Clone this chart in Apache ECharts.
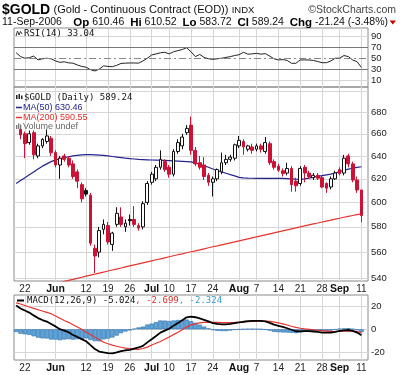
<!DOCTYPE html>
<html><head><meta charset="utf-8">
<script src="https://cdn.jsdelivr.net/npm/echarts@6/dist/echarts.min.js"></script>
<style>html,body{margin:0;padding:0;background:#fff}#c{width:400px;height:375px}</style>
</head><body><div id="c"></div>
<script>
// ---- data ----
const dates = ['05-18','05-19','05-22','05-23','05-24','05-25','05-26','05-30','05-31',
'06-01','06-02','06-05','06-06','06-07','06-08','06-09','06-12','06-13','06-14','06-15','06-16','06-19','06-20','06-21','06-22','06-23','06-26','06-27','06-28','06-29','06-30',
'07-03','07-05','07-06','07-07','07-10','07-11','07-12','07-13','07-14','07-17','07-18','07-19','07-20','07-21','07-24','07-25','07-26','07-27','07-28','07-31',
'08-01','08-02','08-03','08-04','08-07','08-08','08-09','08-10','08-11','08-14','08-15','08-16','08-17','08-18','08-21','08-22','08-23','08-24','08-25','08-28','08-29','08-30','08-31',
'09-01','09-05','09-06','09-07','09-08','09-11'];

const opens = [null,664,660,652,661,640,649,653,656,643,632,640,638,633,626,615,610,606,563,560,578,581,566,582,588,580,586,586,581,580,600,617,620,630,635,630,624,644,649,661,668,645,634,632,623,617,620,626,634,637,638,649,653,646,648,646,649,644,651,635,631,627,625,629,618,616,630,625,621,623,621,616,613,620,628,625,640,633,619,610.46];
const highs = [null,667,662,663,663,651,656,664,658,645,640,642,640,636,628,617,612,608,566,580,586,584,576,596,596,586,590,597,583,601,618,626,632,645,637,632,646,655,660,668,676,648,640,639,625,622,629,643,641,641,651,658,655,650,651,651,651,657,653,637,633,629,634,631,621,631,632,627,625,625,623,617,622,627,630,641,642,635,622,610.52];
const lows = [null,655,638,650,637,638,647,651,640,630,620,635,630,620,612,600,605,565,544,556,574,566,561,580,580,576,581,580,577,578,598,615,618,628,626,621,622,642,646,659,641,631,628,619,614,605,618,624,632,635,636,647,641,644,642,644,643,642,632,628,626,622,623,609,609,614,617,620,619,619,612,608,611,619,623,623,630,617,608,583.72];
const closes = [null,659,651,660,641,649,655,658,643,632,638,637,632,622,618,603,607,567,557,577,582,568,575,591,582,583,585,582,579,599,616,624,630,637,628,624,644,652,657,665,645,633,630,622,617,620,628,634,637,639,650,654,648,649,645,649,646,652,634,630,627.5,624.5,629,615,614,629,625,622,623,620.5,613,612,620,625,624.5,638,633,619,610.48,589.24];

const ma50 = [616,618.5,621,623.5,626,628.5,631,633,635,636.5,637.5,638.5,639.3,640,640.6,641,641.2,641.2,641,640.8,640.5,640,639.5,639,638.5,638,637.6,637.3,637,636.8,636.6,636.4,636.3,636.2,636,635.8,635.6,635.4,635.2,635,634.7,633.8,632.6,631.3,630,628.5,627.2,626,624.8,623.6,622.5,621.3,620.8,620.6,620.5,620.4,620.4,620.4,620.4,620.3,620.3,620.3,620.2,620,619.7,619.5,619.9,620.6,621.4,622.1,622.8,623.4,624,625,626.2,627.4,628.4,629.2,629.9,630.46];
const ma200 = [529.1,529.9,530.7,531.4,532.2,533,533.8,534.6,535.3,536.1,536.9,537.7,538.5,539.2,540,540.8,541.6,542.4,543.1,543.9,544.7,545.5,546.3,547,547.8,548.6,549.4,550.2,550.9,551.7,552.5,553.3,554.1,554.8,555.6,556.4,557.2,558,558.7,559.5,560.3,561,561.8,562.6,563.4,564.2,564.9,565.7,566.5,567.3,568,568.8,569.6,570.4,571.2,572,572.8,573.6,574.4,575.2,576,576.8,577.6,578.4,579.2,580,580.8,581.6,582.4,583.1,583.9,584.7,585.5,586.2,587,587.8,588.5,589.2,589.9,590.55];

const rsi = [60,53,50,51,54,47,49,50,49,45,42.5,43.5,41.5,41,37.6,35,33.5,29,26.6,30,36,35,34.5,37,40.5,41,41.3,41.3,41,45,50,56,58,60,61,58,62,64,66,69.4,62,53,57,51.5,49,48,49,50,51.5,53,55,56.5,61,57.5,58,59,57.5,58.5,54,49,47,47.5,46,40.7,40.7,46.8,47,46.8,46,44,41.8,41.8,45,50,50,55,53,46.8,43.7,33.04];

const macd = [20.5,18,16.2,14.4,12,9.7,8,6.7,4.6,2.5,0.1,-1.2,-2.5,-4.9,-6.6,-8.5,-10.3,-13.7,-17,-19.2,-19.9,-20.5,-20.7,-20,-18.8,-18.1,-17.7,-16.6,-15.7,-14.3,-11.3,-8.6,-5.8,-2.9,-1.1,0.5,3,5.5,7.8,10.3,10.9,10.4,9.5,8.2,6.8,5.3,4.6,4.3,4.3,4.7,5.4,5.9,6.5,7,7.2,7.2,7.2,6.8,5.6,4,3,2,0.9,-0.4,-1.7,-1.8,-1.6,-1.6,-1.9,-2.3,-2.8,-2.9,-2.9,-2.2,-1.3,-0.9,-0.6,-1.3,-2.8,-5.024];
const signal = [22.8,21.8,20.5,19.2,18,16.9,15.8,14.6,13.4,11.4,9.5,7.6,6,4,2,0,-2.5,-4.5,-6.8,-8.8,-11.2,-12.5,-13.6,-14.6,-15.5,-16.2,-16.7,-17.1,-17.3,-16.6,-15.4,-13.5,-12,-10.5,-8.6,-6.6,-4.6,-2.5,-0.3,1.9,3.8,4.7,5.5,5.9,6,6,5.9,5.8,5.8,5.8,5.9,6.1,6.4,6.7,6.9,7,7.1,7.1,6.8,6.2,5.5,4.7,3.7,2.6,1.6,0.9,0.4,0,-0.4,-0.8,-1.2,-1.5,-1.8,-1.9,-1.8,-1.6,-1.5,-1.6,-2,-2.699];
const hist = [-2.3,-3.8,-4.3,-4.8,-6,-7.2,-7.8,-7.9,-8.8,-8.9,-9.4,-8.8,-8.5,-8.9,-8.6,-8.5,-7.8,-9.2,-10.2,-10.4,-8.7,-8,-7.1,-5.4,-3.3,-1.9,-1,0.5,1.6,2.3,4.1,4.9,6.2,7.6,7.5,7.1,7.6,8,8.1,8.4,7.1,5.7,4,2.3,0.8,-0.7,-1.3,-1.5,-1.5,-1.1,-0.5,-0.2,0.1,0.3,0.3,0.2,0.1,-0.3,-1.2,-2.2,-2.5,-2.7,-2.8,-3,-3.3,-2.7,-2,-1.6,-1.5,-1.5,-1.6,-1.4,-1.1,-0.3,0.5,0.7,0.9,0.3,-0.8,-2.324];

const tickDates  = ['05-22','06-01','06-12','06-19','06-26','07-03','07-10','07-17','07-24','08-01','08-07','08-14','08-21','08-28','09-01','09-11'];
const tickLabels = ['22','Jun','12','19','26','Jul','10','17','24','Aug','7','14','21','28','Sep','11'];
const monthLabels = ['Jun','Jul','Aug','Sep'];
const priceTicks = [540,560,580,600,620,640,660,680];
const priceGrid = [540,560,580,600,620,640,660,680,700];
const priceRange = [538.0, 704.3];
const rsiTicks = [10,30,50,70,90];
const rsiGrid = [10,90];
const rsiRange = [-2.85,105.6];
const macdTicks = [-20,0,20];
const macdRange = [-26.5,29.6];

// ---- build ----
const RED = '#cc1236', BLK = '#111';
const F = 'Liberation Sans', M = 'DejaVu Sans Mono';
const cats = dates.concat(['']);
const tickMap = {}; tickDates.forEach((d,i)=>tickMap[d]=tickLabels[i]);
const isTick = (idx,val)=> tickMap[val] !== undefined;

const candles = dates.map((d,k)=>{
  if (opens[k]==null) return '-';
  const o=opens[k], c=closes[k], pc = closes[k-1];
  const col = (pc==null || c < pc) ? RED : BLK;
  const fill = c >= o ? '#ffffff' : col;
  return {value:[Math.log(o),Math.log(c),Math.log(lows[k]),Math.log(highs[k])],
          itemStyle:{color:fill,color0:fill,borderColor:col,borderColor0:col}};
});

function xAx(i, show){
  return {type:'category', gridIndex:i, data:cats, boundaryGap:true,
    axisLine:{show:false}, axisTick:{show:false},
    axisLabel:{show:show, interval:isTick, margin:3, fontSize:10, fontFamily:F, color:'#222',
      formatter:(v)=>{const t=tickMap[v]; if(t===undefined) return ''; return monthLabels.indexOf(t)>=0 ? '{b|'+t+'}' : t;},
      rich:{b:{fontWeight:'bold', fontSize:10.5, fontFamily:F, color:'#111'}}},
    splitLine:{show:true, interval:isTick, alignWithLabel:true, lineStyle:{color:'#d6d6d6', width:1}}};
}
const yLab = {fontSize:9.5, fontFamily:F, color:'#222', margin:3};

const last = closes.length-1;
const chg = closes[last]-closes[last-1];
const pct = chg/closes[last-1]*100;

const option = {
  animation:false,
  backgroundColor:'#fff',
  textStyle:{fontFamily:F},
  grid:[
    {left:14, top:28, width:354, height:59, show:true, borderColor:'#8a8a8a', borderWidth:1},
    {left:14, top:87, width:354, height:194, show:true, borderColor:'#8a8a8a', borderWidth:1},
    {left:14, top:295, width:354, height:65, show:true, borderColor:'#8a8a8a', borderWidth:1}
  ],
  xAxis:[xAx(0,false), xAx(1,true), xAx(2,true)],
  yAxis:[
    {type:'value', gridIndex:0, position:'right', min:rsiRange[0], max:rsiRange[1],
      axisLine:{show:false}, axisTick:{show:false, customValues:rsiGrid},
      axisLabel:Object.assign({customValues:rsiTicks}, yLab),
      splitLine:{show:true, lineStyle:{color:'#d6d6d6'}}},
    {type:'value', gridIndex:1, position:'right', min:Math.log(priceRange[0]), max:Math.log(priceRange[1]),
      axisLine:{show:false}, axisTick:{show:false, customValues:priceGrid.map(Math.log)},
      axisLabel:Object.assign({customValues:priceTicks.map(Math.log), formatter:(v)=>String(Math.round(Math.exp(v)))}, yLab),
      splitLine:{show:true, lineStyle:{color:'#d6d6d6'}}},
    {type:'value', gridIndex:2, position:'right', min:macdRange[0], max:macdRange[1],
      axisLine:{show:false}, axisTick:{show:false, customValues:macdTicks},
      axisLabel:Object.assign({customValues:macdTicks}, yLab),
      splitLine:{show:true, lineStyle:{color:'#d6d6d6'}}}
  ],
  series:[
    {type:'line', xAxisIndex:0, yAxisIndex:0, data:[], z:1, silent:true,
      markLine:{silent:true, symbol:'none', label:{show:false}, animation:false,
        data:[{yAxis:70, lineStyle:{color:'#777', type:'solid', width:1}},
              {yAxis:30, lineStyle:{color:'#777', type:'solid', width:1}},
              {yAxis:50, lineStyle:{color:'#888', type:[7,3,2,3], width:1}}]}},
    {type:'line', xAxisIndex:0, yAxisIndex:0, data:rsi, symbol:'none', z:3,
      lineStyle:{color:'#222', width:1}},
    {type:'line', xAxisIndex:1, yAxisIndex:1, data:ma200.map(Math.log), symbol:'none', z:2,
      lineStyle:{color:'#e8342e', width:1.2}},
    {type:'line', xAxisIndex:1, yAxisIndex:1, data:ma50.map(Math.log), symbol:'none', z:2,
      lineStyle:{color:'#23238e', width:1.2}},
    {type:'candlestick', xAxisIndex:1, yAxisIndex:1, data:candles, barWidth:3.3, z:3,
      itemStyle:{borderWidth:1}},
    {type:'bar', xAxisIndex:2, yAxisIndex:2, data:hist, barCategoryGap:'0%', z:2,
      itemStyle:{color:'#5ea4d6', borderColor:'#2f6fae', borderWidth:0.6}},
    {type:'line', xAxisIndex:2, yAxisIndex:2, data:signal, symbol:'none', z:3,
      lineStyle:{color:'#e8342e', width:1.2}},
    {type:'line', xAxisIndex:2, yAxisIndex:2, data:macd, symbol:'none', z:4,
      lineStyle:{color:'#000', width:1.8}}
  ],
  graphic:[
    {type:'text', x:2, y:10, z:10, style:{text:'{b|$GOLD} {n|(Gold - Continuous Contract (EOD))} {s|INDX}', verticalAlign:'middle',
      rich:{b:{fontSize:14, fontWeight:'bold', fontFamily:F, fill:'#000'}, n:{fontSize:11, fontFamily:F, fill:'#111'}, s:{fontSize:9.5, fontFamily:F, fill:'#111'}}}},
    {type:'text', x:396, y:10, z:10, style:{text:'\u00a9StockCharts.com', align:'right', verticalAlign:'middle', fontSize:10.5, fontFamily:F, fill:'#444'}},
    {type:'text', x:2, y:22.5, z:10, style:{text:'11-Sep-2006', verticalAlign:'middle', fontSize:10.5, fontFamily:F, fill:'#111'}},
    {type:'text', x:388, y:22.5, z:10, style:{text:'{b|Op} '+opens[last].toFixed(2)+'  {b|Hi} '+highs[last].toFixed(2)+'  {b|Lo} '+lows[last].toFixed(2)+'  {b|Cl} '+closes[last].toFixed(2)+'  {b|Chg} '+chg.toFixed(2)+' ('+pct.toFixed(2)+'%)',
      align:'right', verticalAlign:'middle', fontSize:10.5, fontFamily:F, fill:'#111',
      rich:{b:{fontSize:11.5, fontWeight:'bold', fontFamily:F, fill:'#000'}}}},
    {type:'polygon', z:10, shape:{points:[[389.5,20.5],[396,20.5],[392.75,24.5]]}, style:{fill:'#cc0000'}},
    // RSI legend
    {type:'polyline', z:10, shape:{points:[[16,36],[17.5,31],[19,35],[20.5,31.5],[22,34]]}, style:{stroke:'#333', lineWidth:1, fill:null}},
    {type:'text', x:24, y:33.5, z:10, style:{text:'RSI(14) '+rsi[last].toFixed(2), verticalAlign:'middle', fontSize:9, fontFamily:M, fill:'#111'}},
    // price legend
    {type:'rect', z:10, shape:{x:16,y:95,width:1.5,height:4}, style:{fill:'#222'}},
    {type:'rect', z:10, shape:{x:18.5,y:94,width:1.5,height:5}, style:{fill:'#222'}},
    {type:'rect', z:10, shape:{x:21,y:95.5,width:1.5,height:3.5}, style:{fill:'#222'}},
    {type:'text', x:24, y:97.5, z:10, style:{text:'$GOLD (Daily) '+closes[last].toFixed(2), verticalAlign:'middle', fontSize:9, fontFamily:M, fill:'#111'}},
    {type:'line', z:10, shape:{x1:16,y1:107.5,x2:22,y2:107.5}, style:{stroke:'#23238e', lineWidth:1.5}},
    {type:'text', x:23, y:107.5, z:10, style:{text:'MA(50) '+ma50[last].toFixed(2), verticalAlign:'middle', fontSize:9, fontFamily:F, fill:'#23238e'}},
    {type:'line', z:10, shape:{x1:16,y1:117.5,x2:22,y2:117.5}, style:{stroke:'#e8342e', lineWidth:1.5}},
    {type:'text', x:23, y:117.5, z:10, style:{text:'MA(200) '+ma200[last].toFixed(2), verticalAlign:'middle', fontSize:9, fontFamily:F, fill:'#e0302a'}},
    {type:'rect', z:10, shape:{x:16,y:125,width:1.3,height:4}, style:{fill:'#777'}},
    {type:'rect', z:10, shape:{x:18,y:123.5,width:1.3,height:5.5}, style:{fill:'#777'}},
    {type:'rect', z:10, shape:{x:20,y:124.5,width:1.3,height:4.5}, style:{fill:'#777'}},
    {type:'text', x:23, y:127, z:10, style:{text:'Volume undef', verticalAlign:'middle', fontSize:9, fontFamily:F, fill:'#666'}},
    // MACD legend
    {type:'line', z:10, shape:{x1:17,y1:300.5,x2:24,y2:300.5}, style:{stroke:'#000', lineWidth:2}},
    {type:'text', x:27, y:300.5, z:10, style:{text:'{k|MACD(12,26,9) '+macd[last].toFixed(3)+'}{r|, '+signal[last].toFixed(3)+'}{u|, '+hist[last].toFixed(3)+'}', verticalAlign:'middle',
      rich:{k:{fontSize:9, fontFamily:M, fill:'#111'}, r:{fontSize:9, fontFamily:M, fill:'#e0302a'}, u:{fontSize:9, fontFamily:M, fill:'#3c9ad0'}}}}
  ]
};
const chart = echarts.init(document.getElementById('c'));
chart.setOption(option);
</script></body></html>
